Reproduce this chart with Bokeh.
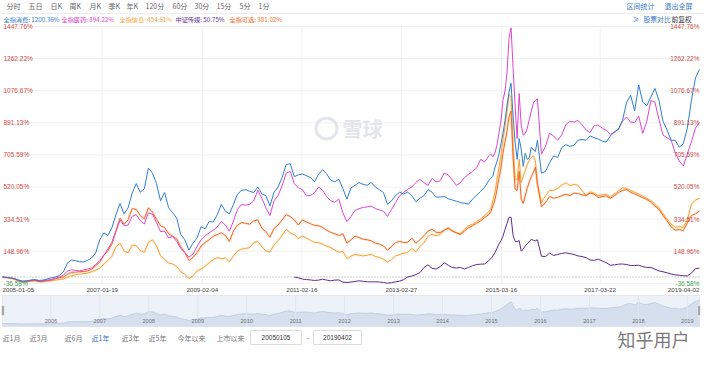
import numpy as np
import pandas as pd
from bokeh.plotting import figure
from bokeh.models import Range1d
from bokeh.core.properties import value
from bokeh.embed import file_html
from bokeh.resources import INLINE

# ---------------- data ----------------
START_DATE = "2005-01-05"
END_DATE = "2019-04-02"
N_SAMPLES = 173          # roughly one sample per month
HALF_FIRST = 120         # 2015: extra half-step samples after samples 120..131
MEDIA_FIRST = 72         # 中证传媒 starts at sample 72 (2011-01)

names = ["全指消费", "全指医药", "全指信息", "中证传媒", "全指可选"]
final_pct = ["1200.36%", "894.22%", "454.61%", "50.75%", "381.02%"]

consumer = [
    0, -3, -6, -10, -18, -24, -22, -18, -15, -20, -18, -12,
    -5, 0, 8, 28, 80, 98, 94, 88, 87, 96, 110, 140,
    215, 255, 240, 285, 360, 425, 365, 400, 485, 540, 490, 510,
    630, 600, 540, 440, 488, 400, 370, 340, 245, 215, 155, 195,
    225, 290, 278, 320, 318, 360, 420, 380, 365, 420, 480, 500,
    505, 495, 488, 520, 480, 470, 411, 490, 520, 575, 650, 655,
    580, 590, 595, 585, 575, 550, 594, 620, 595, 560, 550, 565,
    510, 450, 515, 530, 546, 535, 530, 546, 520, 505, 488, 420,
    440, 470, 490, 480, 490, 470, 435, 455, 470, 505, 490, 462,
    462, 465, 452, 445, 438, 430, 426, 421, 450, 472, 495, 520,
    556, 582, 665, 770, 905, 1070, 930, 680, 740, 715, 690, 735,
    790, 600, 610, 660, 700, 690, 748, 765, 755, 760, 790, 795,
    790, 815, 805, 797, 785, 780, 815, 840, 854, 905, 1009, 1050,
    960, 1110, 1010, 990, 1040, 1090, 1020, 900, 850, 790, 790, 750,
    770, 860, 1020, 1150, 1200.36,
]
consumer_half = [570, 630, 710, 830, 990, 1120, 780, 800, 640, 680, 750, 725]

medicine = [
    0, -2, -5, -10, -20, -26, -24, -20, -18, -24, -22, -18,
    -15, -8, 0, 10, 34, 41, 38, 35, 40, 45, 53, 72,
    95, 125, 161, 200, 265, 330, 296, 300, 350, 360, 326, 306,
    370, 363, 315, 262, 265, 225, 235, 205, 165, 141, 115, 132,
    175, 215, 238, 255, 270, 290, 320, 300, 265, 324, 390, 420,
    415, 420, 440, 500, 455, 400, 355, 440, 470, 527, 600, 610,
    540, 515, 505, 470, 470, 488, 520, 500, 465, 440, 432, 450,
    370, 320, 350, 385, 395, 402, 405, 410, 395, 388, 380, 350,
    390, 430, 470, 488, 507, 520, 546, 565, 545, 530, 570, 550,
    556, 600, 590, 560, 530, 545, 575, 594, 610, 630, 680, 665,
    700, 695, 760, 900, 1075, 1380, 1210, 800, 880, 830, 910, 1005,
    1030, 710, 755, 830, 815, 790, 820, 880, 900, 895, 905, 880,
    850, 835, 875, 878, 860, 848, 825, 835, 854, 900, 925, 895,
    893, 930, 830, 900, 1020, 1010, 910, 820, 805, 790, 720, 670,
    642, 710, 780, 860, 894.22,
]
medicine_half = [712, 715, 830, 1020, 1180, 1440, 990, 1060, 820, 860, 960, 1020]

info = [
    0, -4, -8, -14, -24, -30, -28, -25, -22, -28, -28, -24,
    -22, -18, -15, -12, -2, 6, 12, 16, 20, 22, 30, 40,
    50, 75, 95, 120, 175, 195, 150, 140, 185, 180, 152, 142,
    200, 215, 180, 122, 103, 80, 75, 60, 30, 16, -10, 6,
    35, 45, 62, 82, 100, 112, 105, 110, 88, 122, 150, 161,
    165, 170, 199, 205, 175, 150, 145, 185, 210, 240, 275, 255,
    245, 222, 236, 225, 212, 200, 198, 190, 178, 170, 155, 143,
    148, 106, 120, 131, 126, 122, 126, 132, 118, 113, 103, 86,
    100, 122, 130, 138, 141, 165, 145, 175, 199, 235, 247, 238,
    245, 270, 284, 268, 255, 250, 275, 295, 305, 320, 335, 355,
    375, 440, 560, 700, 870, 1055, 770, 560, 546, 615, 675, 700,
    540, 430, 470, 500, 500, 512, 530, 545, 528, 535, 530, 500,
    472, 492, 485, 470, 475, 478, 462, 480, 498, 515, 512, 500,
    490, 479, 466, 455, 442, 420, 400, 365, 335, 305, 288, 292,
    286, 330, 420, 445, 454.61,
]
info_half = [395, 485, 630, 795, 955, 1040, 565, 680, 580, 650, 690, 670]

media = [
    0, -5, -12, -15, -17, -20, -18, -13, -18, -22, -18, -17,
    -30, -32, -29, -26, -22, -25, -28, -28, -28, -29, -32, -36,
    -33, -28, -24, -15, 0, 5, 14, 25, 55, 70, 50, 46,
    60, 82, 68, 55, 52, 55, 46, 55, 65, 72, 74, 75,
    95, 120, 165, 210, 275, 345, 240, 205, 150, 180, 205, 212,
    215, 120, 118, 138, 124, 130, 136, 140, 135, 130, 122, 118,
    112, 98, 96, 103, 92, 82, 68, 70, 74, 75, 72, 66,
    66, 68, 60, 55, 55, 45, 35, 30, 24, 17, 12, 10,
    7, 6, 22, 48, 50.75,
]
media_half = [105, 140, 190, 235, 310, 345, 205, 210, 160, 192, 218, 209]

discretionary = [
    0, -3, -6, -12, -22, -28, -26, -22, -20, -26, -25, -20,
    -18, -10, -5, 0, 15, 26, 28, 30, 32, 35, 44, 65,
    85, 125, 151, 190, 265, 340, 305, 330, 395, 390, 356, 335,
    400, 375, 334, 296, 286, 250, 235, 220, 175, 141, 95, 113,
    140, 178, 199, 215, 235, 245, 255, 240, 205, 267, 300, 315,
    310, 305, 324, 330, 282, 260, 230, 280, 300, 330, 360, 350,
    330, 300, 330, 318, 308, 298, 296, 286, 270, 258, 250, 240,
    250, 195, 215, 236, 228, 218, 215, 209, 195, 190, 180, 155,
    175, 199, 205, 200, 200, 225, 195, 215, 238, 265, 276, 258,
    257, 270, 282, 265, 255, 245, 265, 285, 296, 310, 325, 344,
    360, 410, 500, 630, 780, 925, 690, 500, 450, 470, 550, 604,
    540, 405, 430, 465, 455, 460, 470, 478, 470, 485, 482, 475,
    470, 485, 478, 460, 465, 468, 455, 470, 488, 500, 505, 490,
    480, 469, 458, 448, 432, 410, 390, 355, 325, 290, 270, 275,
    268, 312, 355, 365, 381.02,
]
discretionary_half = [378, 445, 570, 715, 840, 960, 507, 610, 425, 515, 580, 635]

y_ticks = [-36.58, 148.96, 334.51, 520.05, 705.59, 891.13, 1076.67, 1262.22, 1447.76]
date_ticks = ["2005-01-05", "2007-01-19", "2009-02-04", "2011-02-16",
              "2013-02-27", "2015-03-16", "2017-03-22", "2019-04-02"]
nav_years = [2006, 2007, 2008, 2009, 2010, 2011, 2012, 2013, 2014, 2015, 2016, 2017, 2018, 2019]
period_buttons = ["分时", "五日", "日K", "周K", "月K", "季K", "年K", "120分", "60分", "30分", "15分", "5分", "1分"]
range_buttons = ["近1月", "近3月", "近6月", "近1年", "近3年", "近5年", "今年以来", "上市以来"]
date_inputs = ["20050105", "20190402"]

# ---------------- layout / style ----------------
W, H = 704, 353
CJK = value("Noto Sans CJK SC")
NUM = value("Liberation Sans")
colors = ["#2f7fd1", "#dd45cf", "#f5a43a", "#5f2a91", "#f06a22"]
BLUE_UI = "#3a78c3"
UP_RED = "#cf4c46"
DOWN_GREEN = "#3da35a"

grid = pd.date_range(START_DATE, END_DATE, periods=N_SAMPLES)
ms = grid.asi8 / 1e6
half_ms = (ms[HALF_FIRST:HALF_FIRST + 12] + ms[HALF_FIRST + 1:HALF_FIRST + 13]) / 2


def merged(vals, half, first=0):
    xs = np.concatenate([ms[first:], half_ms])
    ys = np.concatenate([np.asarray(vals, float), np.asarray(half, float)])
    o = np.argsort(xs)
    return xs[o], ys[o]


def to_ms(s):
    return pd.Timestamp(s).value / 1e6


t0, t1 = ms[0], ms[-1]
left_px, right_px = 2, 699
sx = (t1 - t0) / (right_px - left_px)
x_range = Range1d(t0 - left_px * sx, t0 + (W - left_px) * sx)

top_px, bot_px = 26, 282.8
ymin, ymax = y_ticks[0], y_ticks[-1]
sy = (ymax - ymin) / (bot_px - top_px)
y_range = Range1d(ymin - (H - bot_px) * sy, ymax + top_px * sy)

p = figure(width=W, height=H, x_range=x_range, y_range=y_range,
           x_axis_location=None, y_axis_location=None, toolbar_location=None,
           output_backend="svg", min_border=0, outline_line_color=None,
           background_fill_color="white", border_fill_color="white")
p.xgrid.visible = False
p.ygrid.visible = False
p.extra_x_ranges = {"px": Range1d(0, W)}
p.extra_y_ranges = {"py": Range1d(H, 0)}

nav_zero_px, nav_top_px = 323, 300
nav_s = 1200 / (nav_zero_px - nav_top_px)
p.extra_y_ranges["nav"] = Range1d(-(H - nav_zero_px) * nav_s, nav_zero_px * nav_s)

# ---- header ----
p.segment(x0=[0], y0=[13], x1=[W], y1=[13], x_range_name="px", y_range_name="py",
          line_color="#ececec", line_width=1)
btn_x = [6, 28, 50, 69, 89, 108, 126, 145, 172, 194, 216, 239, 258]
p.text(x=btn_x, y=[5] * len(period_buttons), text=period_buttons, x_range_name="px", y_range_name="py",
       text_font=CJK, text_font_size="7px", text_color="#666666", text_baseline="middle")
p.text(x=[626, 664], y=[5, 5], text=["区间统计", "退出全屏"], x_range_name="px", y_range_name="py",
       text_font=CJK, text_font_size="7px", text_color=BLUE_UI, text_baseline="middle")
leg_x = [3, 61, 119, 175, 229]
p.text(x=leg_x, y=[19] * 5, text=[f"{n}: {v}" for n, v in zip(names, final_pct)],
       x_range_name="px", y_range_name="py", text_font=CJK, text_font_size="6.2px",
       text_color=colors, text_baseline="middle")
p.text(x=[632, 643], y=[18, 18], text=["≥", "股票对比"], x_range_name="px", y_range_name="py",
       text_font=CJK, text_font_size="6.8px", text_color=BLUE_UI, text_baseline="middle")
p.text(x=[671], y=[18], text=["前复权"], x_range_name="px", y_range_name="py",
       text_font=CJK, text_font_size="6.8px", text_color="#333333", text_baseline="middle")

# ---- grid ----
p.segment(x0=[t0] * len(y_ticks), x1=[t1] * len(y_ticks), y0=y_ticks, y1=y_ticks,
          line_color="#f1f1f1", line_width=1)
dt_ms = [to_ms(d) for d in date_ticks]
p.segment(x0=dt_ms[1:-1], x1=dt_ms[1:-1], y0=[ymin] * 6, y1=[ymax] * 6,
          line_color="#f1f1f1", line_width=1)

# watermark
p.scatter(x=[326], y=[128], x_range_name="px", y_range_name="py", marker="circle", size=21,
          fill_color=None, line_color="#e2e5ea", line_width=3)
p.text(x=[342], y=[128], text=["雪球"], x_range_name="px", y_range_name="py",
       text_font=CJK, text_font_size="20px", text_color="#e2e5ea", text_font_style="bold",
       text_baseline="middle")

# zero line
p.segment(x0=[t0], x1=[t1], y0=[0], y1=[0], line_color="#a0a0a0", line_width=1, line_dash="1 2")

# ---- series ----
series = {
    "consumer": (consumer, consumer_half, 0),
    "medicine": (medicine, medicine_half, 0),
    "info": (info, info_half, 0),
    "media": (media, media_half, MEDIA_FIRST),
    "discretionary": (discretionary, discretionary_half, 0),
}
xy = {k: merged(v, h, f) for k, (v, h, f) in series.items()}

for key, col in [("info", colors[2]), ("discretionary", colors[4])]:
    x, y = xy[key]
    p.line(x, y, line_color=col, line_width=2.6, line_alpha=0.14)
draw_order = [("media", colors[3]), ("info", colors[2]), ("discretionary", colors[4]),
              ("medicine", colors[1]), ("consumer", colors[0])]
for key, col in draw_order:
    x, y = xy[key]
    p.line(x, y, line_color=col, line_width=1.0)

# ---- y tick labels (left and right, inside the plot) ----
lab = [f"{v:.2f}%" for v in y_ticks]
lab_col = [DOWN_GREEN if v < 0 else UP_RED for v in y_ticks]
p.text(x=[3] * len(y_ticks), y=y_ticks, text=lab, x_range_name="px", text_font=NUM,
       text_font_size="6.5px", text_color=lab_col, text_baseline="middle", text_align="left")
p.text(x=[699] * len(y_ticks), y=y_ticks, text=lab, x_range_name="px", text_font=NUM,
       text_font_size="6.5px", text_color=lab_col, text_baseline="middle", text_align="right")

# ---- date tick labels ----
aligns = ["left"] + ["center"] * (len(date_ticks) - 2) + ["right"]
p.text(x=dt_ms, y=[289] * len(dt_ms), text=date_ticks, y_range_name="py", text_font=NUM,
       text_font_size="6.2px", text_color="#444444", text_baseline="middle", text_align=aligns)

# ---- navigator ----
p.quad(left=[left_px], right=[right_px], top=[295], bottom=[326], x_range_name="px", y_range_name="py",
       fill_color="#edf1f8", line_color="#e3e8f0")
nav_floor = -(326 - nav_zero_px) * nav_s
cx, cy = xy["consumer"]
p.varea(x=cx, y1=np.full(len(cx), nav_floor), y2=cy, y_range_name="nav",
        fill_color="#d3ddec", fill_alpha=0.9)
p.line(cx, cy, y_range_name="nav", line_color="#b9c8df", line_width=0.8)
yr_ms = [to_ms(f"{y}-01-01") for y in nav_years]
p.segment(x0=yr_ms, x1=yr_ms, y0=[295] * len(yr_ms), y1=[326] * len(yr_ms), y_range_name="py",
          line_color="#dfe6f1", line_width=1)
p.text(x=yr_ms, y=[320] * len(yr_ms), text=[str(y) for y in nav_years], y_range_name="py",
       text_font=NUM, text_font_size="5.6px", text_color="#6f6f6f", text_baseline="middle",
       text_align="center")
p.quad(left=[left_px - 1, right_px - 2], right=[left_px + 2, right_px + 1], top=[305, 305],
       bottom=[315, 315], x_range_name="px", y_range_name="py", fill_color="#a8a8a8",
       line_color="#ffffff", line_width=0.5)

# ---- bottom row ----
rb_x = [2, 29, 64, 91, 121, 148, 177, 216]
rb_col = [BLUE_UI if b == "近1年" else "#777777" for b in range_buttons]
p.text(x=rb_x, y=[337] * len(range_buttons), text=range_buttons, x_range_name="px", y_range_name="py",
       text_font=CJK, text_font_size="7px", text_color=rb_col, text_baseline="middle")
p.quad(left=[250, 313], right=[301, 361], top=[330, 330], bottom=[344, 344],
       x_range_name="px", y_range_name="py", fill_color="white", line_color="#dddddd")
p.text(x=[275.5, 337], y=[337, 337], text=date_inputs, x_range_name="px", y_range_name="py",
       text_font=NUM, text_font_size="6.5px", text_color="#333333", text_baseline="middle",
       text_align="center")
p.text(x=[307], y=[337], text=["-"], x_range_name="px", y_range_name="py",
       text_font=NUM, text_font_size="6.5px", text_color="#666666", text_baseline="middle",
       text_align="center")
p.text(x=[653], y=[338], text=["知乎用户"], x_range_name="px", y_range_name="py",
       text_font=CJK, text_font_size="18px", text_color="#5e5e5e", text_baseline="middle",
       text_align="center", text_alpha=0.85)

open("out.html", "w").write(file_html(p, INLINE))
